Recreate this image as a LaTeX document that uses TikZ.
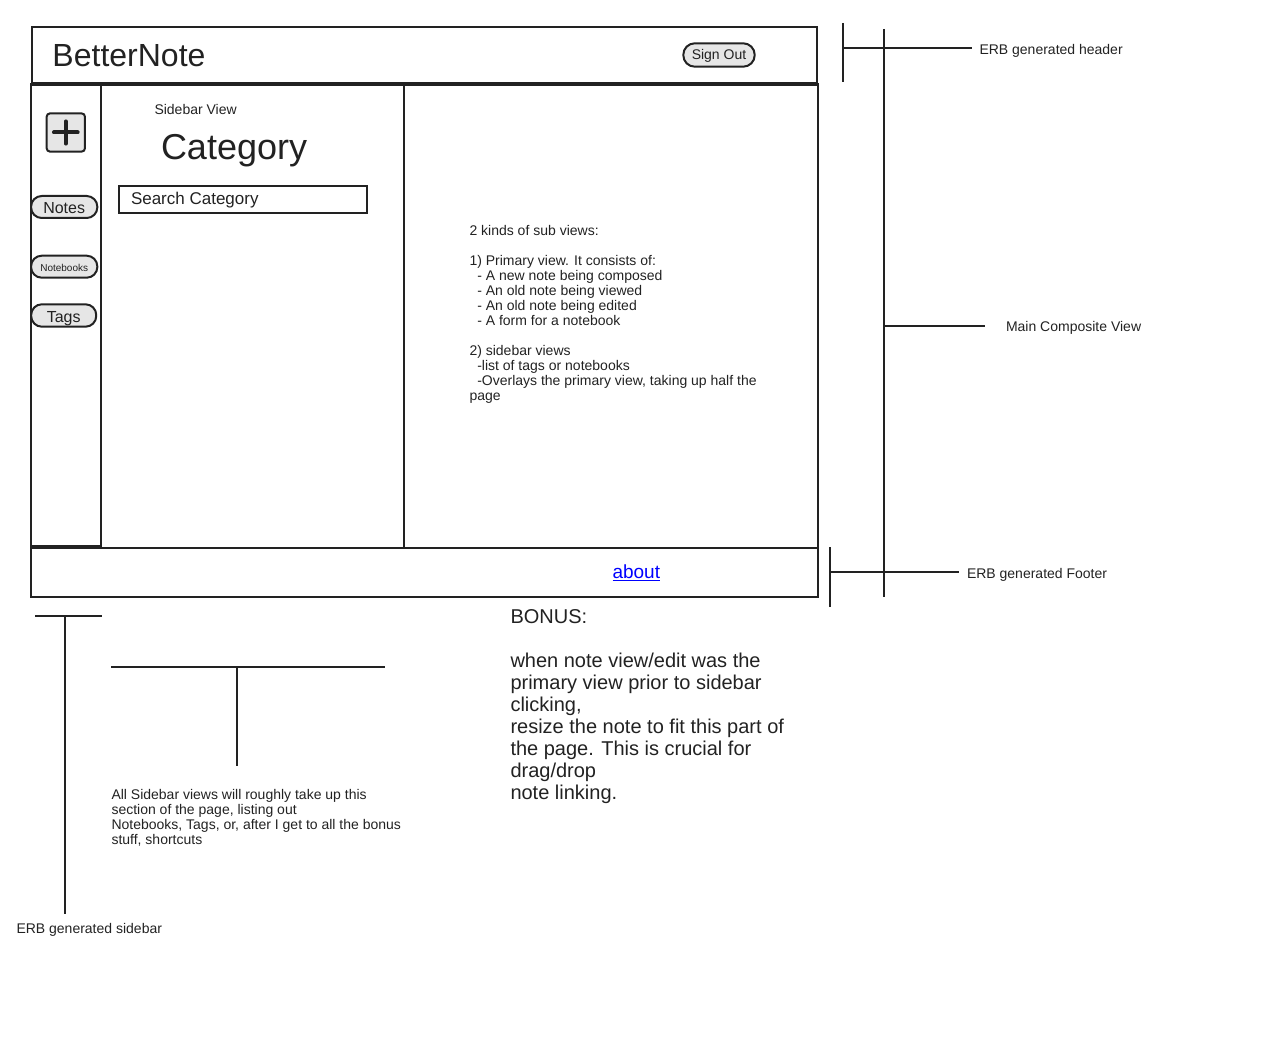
\documentclass[tikz,border=0pt]{standalone}
\usepackage{fontspec}
\setmainfont{Liberation Sans}
\usepackage{xcolor}
\definecolor{wire}{HTML}{222222}
\definecolor{btnfill}{HTML}{E6E6E6}
\definecolor{linkblue}{HTML}{0000FF}
\tikzset{
  pill/.style={draw=wire, fill=btnfill, rounded corners=8pt, inner sep=0pt, text height=1.5ex, text depth=.25ex},
  note/.style={font=\fontsize{10.5}{11.25}\selectfont, align=left, inner sep=0.75pt},
  bonus/.style={font=\fontsize{15}{16.5}\selectfont, align=left, inner sep=0.75pt},
}

\begin{document}
\begin{tikzpicture}[x=0.75pt,y=0.75pt,yscale=-1,xscale=1, color=wire, line width=1.5pt]
\useasboundingbox (0,0) rectangle (1279,1038);

%Shape: Rectangle (header)
\draw   (32,27) -- (817,27) -- (817,84) -- (32,84) -- cycle ;
\draw  [line width=2.5pt]  (31,84) -- (818,84) ;
%Shape: Rectangle (main view)
\draw   (31,84) -- (818,84) -- (818,548) -- (31,548) -- cycle ;
\draw   (101,84) -- (101,547) ;
\draw   (404,85) -- (404,548) ;
\draw  [line width=2.5pt]  (31,546.5) -- (101,546.5) ;
%Shape: Rectangle (footer)
\draw   (31,548) -- (818,548) -- (818,597) -- (31,597) -- cycle ;

%Shape: Button (add)
\draw (65.8,132.5) node (addbtn) [draw, fill=btnfill, rounded corners=2.5pt, minimum size=28.7pt, inner sep=0pt] {};
\draw  [line width=3pt, line cap=round]  ([xshift=-8.9pt]addbtn.center) -- ([xshift=8.9pt]addbtn.center) ;
\draw  [line width=3pt, line cap=round]  ([yshift=-8.3pt]addbtn.center) -- ([yshift=8.3pt]addbtn.center) ;

%Shape: Buttons (sidebar)
\draw (64.2,207) node (notesbtn) [pill, minimum width=49.7pt, minimum height=16.5pt, text height=10.2pt, text depth=0pt, font=\fontsize{12}{14}\selectfont] {Notes};
\draw (64.2,266.7) node (booksbtn) [pill, minimum width=49.7pt, minimum height=16.5pt, font=\fontsize{7.5}{9}\selectfont] {Notebooks};
\draw (63.7,315.5) node (tagsbtn) [pill, minimum width=48.8pt, minimum height=16.8pt, text height=10.2pt, text depth=0pt, font=\fontsize{12}{14}\selectfont] {Tags};
%Shape: Button (sign out)
\draw (719,55) node (signout) [pill, rounded corners=8.5pt, minimum width=53.5pt, minimum height=17.5pt, font=\fontsize{10.5}{12}\selectfont] {Sign Out};

%Shape: Rectangle (search field)
\draw   (118.7,185.7) -- (366.7,185.7) -- (366.7,213.3) -- (118.7,213.3) -- cycle ;

% Text Node
\draw (50.5,67) node (brand) [anchor=base west][inner sep=0.75pt] [font=\fontsize{24}{28}\selectfont] {BetterNote};
% Text Node
\draw (152.5,114.3) node (sidebarlbl) [anchor=base west][note] {Sidebar View};
% Text Node
\draw (159,159.3) node (category) [anchor=base west][inner sep=0.75pt] [font=\fontsize{27}{31}\selectfont] {Category};
% Text Node
\draw (129,204.3) node (searchlbl) [anchor=base west][inner sep=0.75pt] [font=\fontsize{12.75}{15}\selectfont] {Search Category};
% Text Node
\draw (467.5,223.8) node (subviews) [anchor=north west][note] {2 kinds of sub views:\\[11.25pt]
1) Primary view. It consists of:\\
\ \ - A new note being composed\\
\ \ - An old note being viewed\\
\ \ - An old note being edited\\
\ \ - A form for a notebook\\[11.25pt]
2) sidebar views\\
\ \ -list of tags or notebooks\\
\ \ -Overlays the primary view, taking up half the\\
page};
% Text Node
\draw (610.5,578) node (about) [anchor=base west][inner sep=0.75pt] [font=\fontsize{14.25}{17}\selectfont, text=linkblue] {\underline{about}};
% Text Node
\draw (508.5,607.4) node (bonustxt) [anchor=north west][bonus] {BONUS:\\[16.5pt]
when note view/edit was the\\
primary view prior to sidebar\\
clicking,\\
resize the note to fit this part of\\
the page. This is crucial for\\
drag/drop\\
note linking.};
% Text Node
\draw (109.5,787.5) node (sidebarnote) [anchor=north west][note] {All Sidebar views will roughly take up this\\
section of the page, listing out\\
Notebooks, Tags, or, after I get to all the bonus\\
stuff, shortcuts};

%Shape: Brackets (annotations)
\draw   (843,23) -- (843,82) ;
\draw   (843,48) -- (972,48) ;
\draw   (884,29) -- (884,597) ;
\draw   (884,326) -- (985,326) ;
\draw   (830,547) -- (830,607) ;
\draw   (830,572) -- (959,572) ;
\draw   (35,616) -- (102,616) ;
\draw   (65,616) -- (65,914) ;
\draw   (111,667) -- (385,667) ;
\draw   (237,667) -- (237,766) ;

% Text Node
\draw (977.5,55) node (headerlbl) [anchor=base west][note] {ERB generated header};
% Text Node
\draw (1004,331) node (mainlbl) [anchor=base west][note] {Main Composite View};
% Text Node
\draw (965,578) node (footerlbl) [anchor=base west][note] {ERB generated Footer};
% Text Node
\draw (14.5,933.5) node (sidebarerb) [anchor=base west][note] {ERB generated sidebar};

\end{tikzpicture}
\end{document}
